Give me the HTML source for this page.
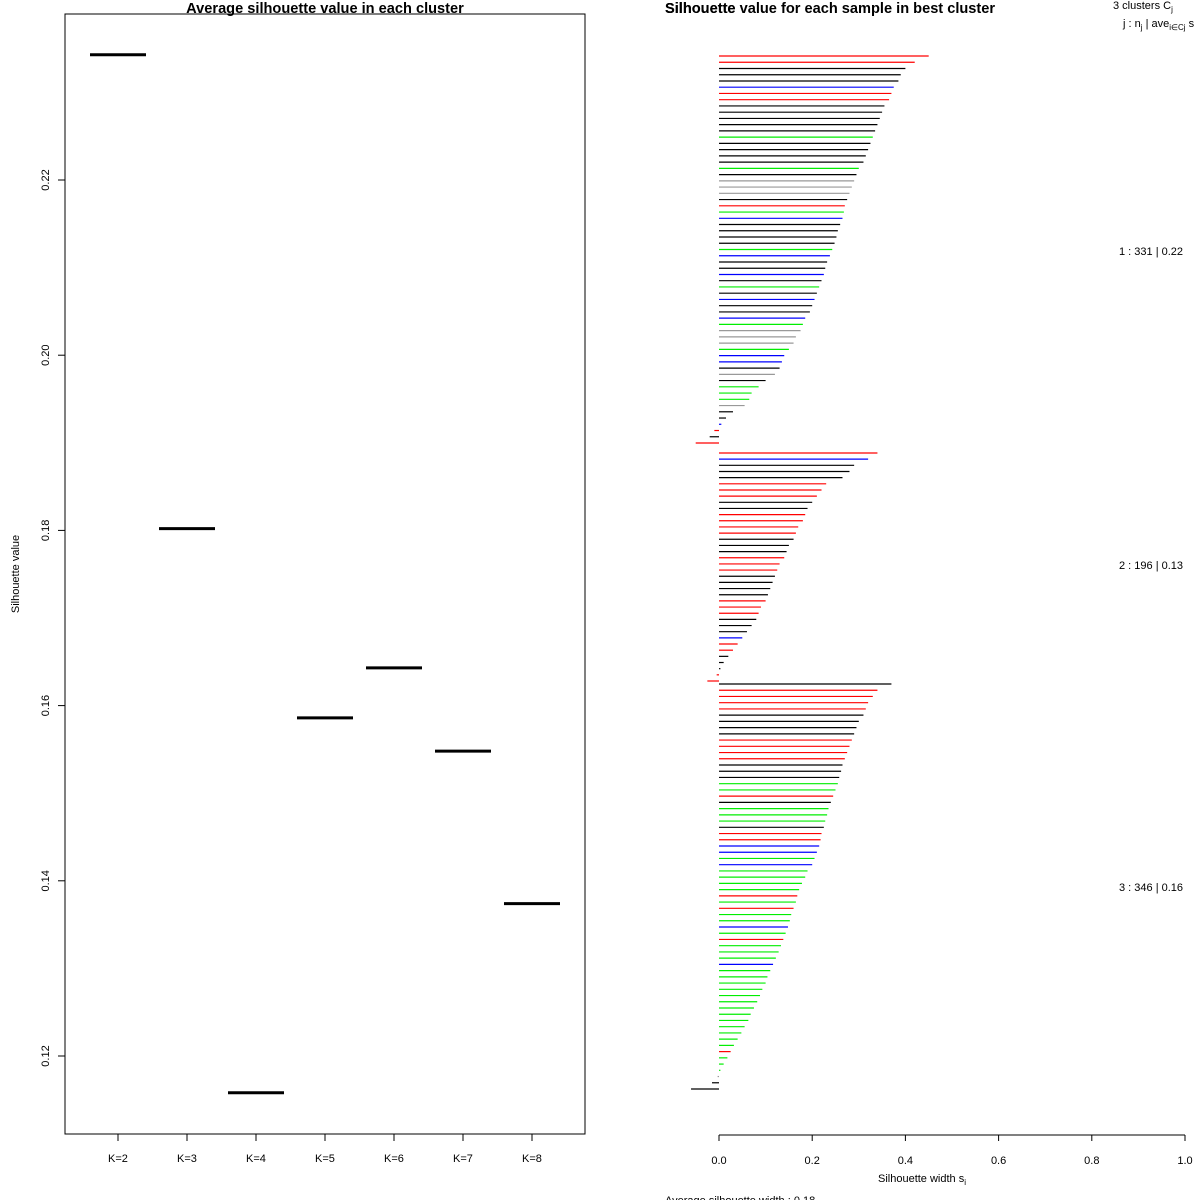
<!DOCTYPE html>
<html><head><meta charset="utf-8"><style>
body{margin:0;background:#fff}
svg{display:block}
text{font-family:"Liberation Sans",sans-serif;fill:#000}
</style></head><body>
<svg id="s" width="1200" height="1200" viewBox="0 0 1200 1200">
<g id="left">
<rect x="65" y="14" width="520" height="1120" fill="none" stroke="#000" stroke-width="1"/>
<text x="325" y="13" text-anchor="middle" font-size="14.6" font-weight="bold">Average silhouette value in each cluster</text>
<text transform="translate(19,574) rotate(-90)" text-anchor="middle" font-size="11">Silhouette value</text>
</g>
<g id="right">
<text x="665" y="13" font-size="14.6" font-weight="bold">Silhouette</text>
<text x="665" y="13" font-size="14.6" font-weight="bold">Silhouette value for each sample in best cluster</text>
<text x="1113" y="9" font-size="11">3  clusters  C<tspan font-size="8" dy="3">j</tspan></text>
<text x="1123" y="27" font-size="11">j :  n<tspan font-size="8" dy="3">j</tspan><tspan dy="-3"> | ave</tspan><tspan font-size="8" dy="3">i∈Cj</tspan><tspan dy="-3">  s</tspan></text>
<text x="1119" y="255" font-size="11">1 :  331  |  0.22</text>
<text x="1119" y="569" font-size="11">2 :  196  |  0.13</text>
<text x="1119" y="891" font-size="11">3 :  346  |  0.16</text>
<text x="922" y="1182" text-anchor="middle" font-size="11">Silhouette width s<tspan font-size="8" dy="3">i</tspan></text>
<text x="665" y="1204" font-size="11">Average silhouette width :  0.18</text>
</g>
</svg>
<script>
const kLabels=["K=2","K=3","K=4","K=5","K=6","K=7","K=8"];
const kValues=[0.2343,0.1802,0.1158,0.1586,0.1643,0.1548,0.1374];
const yTicks=[0.12,0.14,0.16,0.18,0.20,0.22];
const xTicks=[0,0.2,0.4,0.6,0.8,1.0];
const c1=[0.45,0.42,0.40,0.39,0.385,0.375,0.37,0.365,0.355,0.35,0.345,0.34,0.335,0.33,0.325,0.32,0.315,0.31,0.30,0.295,0.29,0.285,0.28,0.275,0.27,0.268,0.265,0.26,0.255,0.252,0.248,0.243,0.238,0.232,0.228,0.225,0.22,0.215,0.21,0.205,0.2,0.195,0.185,0.18,0.175,0.165,0.16,0.15,0.14,0.135,0.13,0.12,0.10,0.085,0.07,0.065,0.055,0.03,0.015,0.005,-0.01,-0.02,-0.05];
const c1col="rrkkkbrrkkkkkgkkkkgkaaakrgbkkkkgbkkbkgkbkkbgaaagbbkakgggakkbrkr";
const c2=[0.34,0.32,0.29,0.28,0.265,0.23,0.22,0.21,0.2,0.19,0.185,0.18,0.17,0.165,0.16,0.15,0.145,0.14,0.13,0.125,0.12,0.115,0.11,0.105,0.1,0.09,0.085,0.08,0.07,0.06,0.05,0.04,0.03,0.02,0.01,0.003,-0.005,-0.025];
const c2col="rbkkkrrrkkrrrrkkkrrrkkkkrrrkkkbrrkkkrr";
const c3=[0.37,0.34,0.33,0.32,0.315,0.31,0.30,0.295,0.29,0.285,0.28,0.275,0.27,0.265,0.262,0.258,0.255,0.25,0.245,0.24,0.235,0.232,0.228,0.225,0.22,0.218,0.215,0.21,0.205,0.2,0.19,0.185,0.178,0.172,0.168,0.165,0.16,0.155,0.152,0.148,0.143,0.138,0.133,0.128,0.122,0.116,0.11,0.104,0.1,0.093,0.088,0.082,0.075,0.068,0.063,0.055,0.048,0.04,0.032,0.025,0.018,0.01,0.003,-0.003,-0.015,-0.06];
const c3col="krrrrkkkkrrrrkkkggrkgggkrrbbgbggggrgrggbgrgggbgggggggggggggrggga";
const NS="http://www.w3.org/2000/svg";
const svg=document.getElementById('s');
const L=document.getElementById('left'),R=document.getElementById('right');
function mk(t,a,p){const e=document.createElementNS(NS,t);for(const k in a)e.setAttribute(k,a[k]);p.appendChild(e);return e;}
const yL=v=>180+(0.22-v)*8760;
const xL=i=>118+i*69;
const xR=v=>719+v*466;
const cmap={r:"#ff0000",b:"#0000ff",g:"#00ee00",k:"#000000",a:"#999999"};
kValues.forEach((v,i)=>{
 const seg=mk('line',{x1:xL(i)-28,x2:xL(i)+28,y1:yL(v),y2:yL(v),stroke:'#000','stroke-width':3},L);
 
 
 const tk=mk('line',{x1:xL(i),x2:xL(i),y1:1134,y2:1141,stroke:'#000'},L);
 
 
 const tl=mk('text',{x:xL(i),y:1162,'text-anchor':'middle','font-size':11},L);tl.textContent=kLabels[i];
 
 
});
yTicks.forEach(v=>{
 const tk=mk('line',{x1:58,x2:65,y1:yL(v),y2:yL(v),stroke:'#000'},L);
 
 
 const tl=mk('text',{transform:`translate(49,${yL(v)}) rotate(-90)`,'text-anchor':'middle','font-size':11},L);tl.textContent=v.toFixed(2);
 
 
});
function cluster(vals,cols,y0,y1,n){
 const step=(y1-y0)/(vals.length-1);
 vals.forEach((v,i)=>{
  const y=y0+i*step;
  const b=mk('line',{x1:xR(0),x2:xR(v),y1:y,y2:y,stroke:cmap[cols[i]]||'#000','stroke-width':1.2},R);
  
  
 });
}
cluster(c1,c1col,56,443,1);
cluster(c2,c2col,453,681,2);
cluster(c3,c3col,684,1089,3);
const ax=mk('line',{x1:xR(0),x2:xR(1),y1:1135,y2:1135,stroke:'#000'},R);


xTicks.forEach(v=>{
 const tk=mk('line',{x1:xR(v),x2:xR(v),y1:1135,y2:1141,stroke:'#000'},R);
 
 
 const tl=mk('text',{x:xR(v),y:1164,'text-anchor':'middle','font-size':11},R);tl.textContent=v.toFixed(1);
 
 
});
</script>
</body></html>
